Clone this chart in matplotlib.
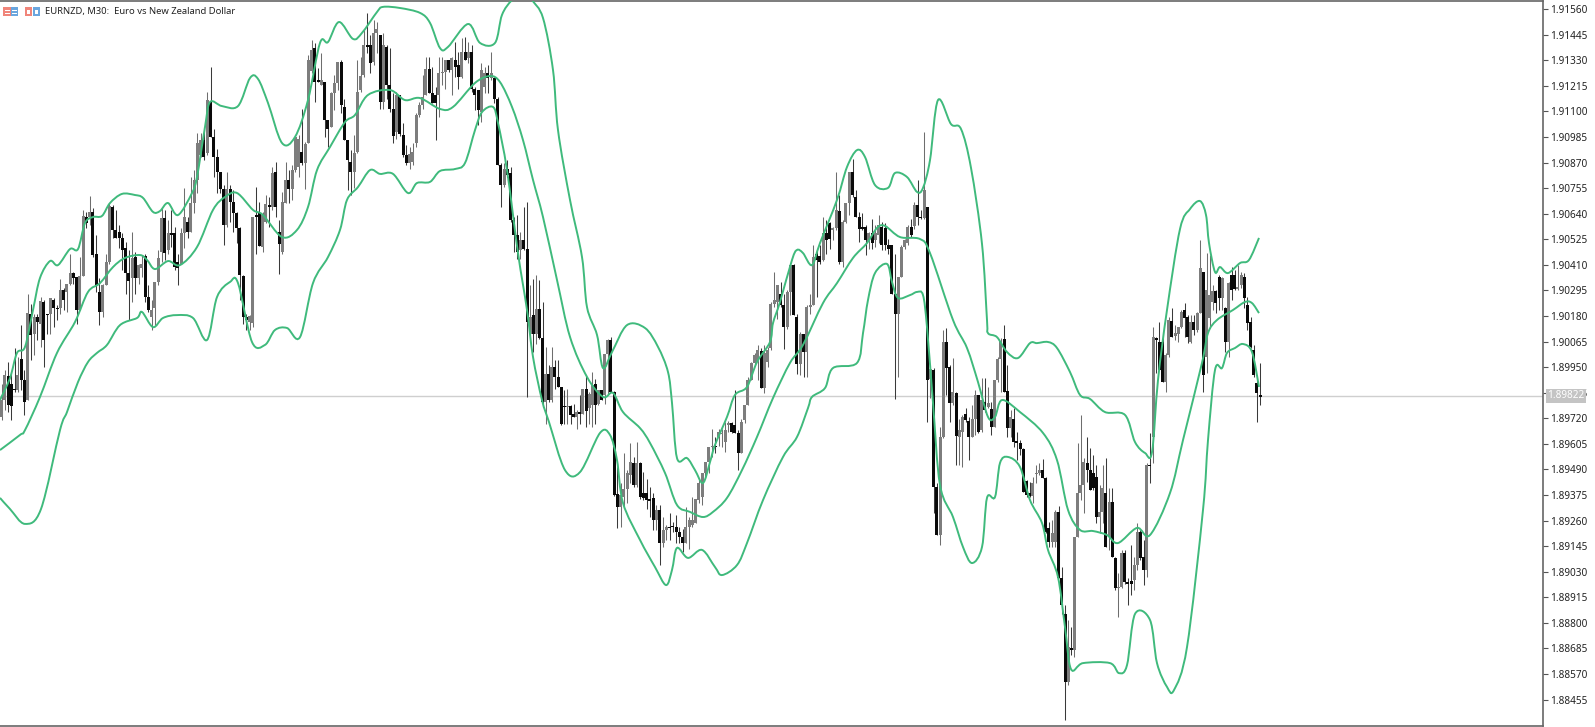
import numpy as np
import matplotlib
matplotlib.use("Agg")
import matplotlib.pyplot as plt
from matplotlib.patches import Rectangle, PathPatch
from matplotlib.path import Path

# prices are kept as points above 1.88000
BASE = 1.88

highs = [
    1876,1936,1974,1921,2034,1996,2139,1936,2281,2236,2191,2191,2266,2251,2191,2259,2259,2229,2348,2304,
    2326,2461,2378,2356,2446,2656,2648,2719,2664,2544,2349,2326,2461,2686,2679,2656,2589,2551,2514,2476,
    2558,2469,2416,2453,2461,2318,2251,2334,2476,2664,2656,2611,
    2656,2581,2461,2574,2754,2626,2806,2836,3001,3001,3031,3188,3301,3023,2933,2829,2769,2829,2769,2746,
    2649,2581,2363,2191,2183,2626,2761,2694,2649,2723,2716,2851,2873,2611,2739,2873,2836,2858,2986,2993,
    3113,2963,3353,3421,3406,3293,3361,3233,3061,3188,3263,3323,
    3331,3158,2971,2926,2993,3331,3346,3466,3541,3443,3511,3503,3443,3451,3398,3383,3181,3188,3173,3046,
    2948,2941,2956,3091,3143,3263,3346,3346,3301,3211,3346,3346,3331,3331,3346,3413,3368,3428,3436,3413,
    3398,3211,3196,3316,3301,3308,3368,3256,3166,
    2866,2866,2881,2851,2626,2633,2558,2671,2693,2319,2348,2363,2341,2243,2041,1958,2041,1981,1981,1861,
    1846,1853,1778,1786,1756,1823,1853,1913,1838,1928,1898,1838,1846,2011,2078,2086,
    1842,1502,1427,1562,1487,1607,1547,1614,1524,1479,1449,1412,1382,1329,1329,1277,1239,1292,1254,1284,
    1232,1224,1322,1277,1367,1359,1442,1472,1524,1592,1674,1637,1674,1674,1704,1709,1704,1847,1667,1719,
    1779,1907,1974,2012,2049,2034,2049,
    2041,2243,2378,2318,2333,2281,2296,2416,2416,2191,2108,2101,2228,2281,2498,2476,2498,2626,2611,2603,
    2581,2828,2723,2611,2686,2828,2888,2746,2648,2641,2588,2558,2618,2588,2633,2603,2599,2528,2498,2461,
    2356,2498,2528,2588,2618,2693,2791,2656,3007,2671,
    1960,1945,1427,1682,2117,2124,1959,1990,1839,1719,1734,1764,1727,1779,1847,1824,1899,1899,1862,1794,
    1892,1997,2080,2140,1960,1757,1764,1660,1624,1585,1442,1435,1457,1509,1517,1539,1457,1255,1262,1307,
    1325,
    1052,880,812,782,1187,1607,1734,1540,1637,1585,1555,1510,1420,1510,1540,1405,1405,1097,1022,1127,
    1127,1000,1150,1097,1247,1217,1172,1517,1652,
    2132,2087,2154,2110,2012,2177,2214,2139,2132,2207,2237,2184,2184,2184,2199,2522,2380,2462,2454,2320,
    2297,2364,2357,2222,2334,2402,2387,2409,2379,2372,2267,2177,2049,1914,1967,
]
lows = [
    1711,1756,1749,1711,1839,1839,1846,1734,1801,1981,2004,2071,2041,1951,2100,2101,2131,2161,2191,2206,
    2198,2318,2326,2146,2206,2364,2574,2589,2446,2289,2139,2176,2319,2416,2529,2529,2484,2386,2281,2161,
    2244,2281,2326,2356,2244,2198,2116,2139,2319,2424,2431,2461,
    2491,2386,2319,2416,2484,2529,2559,2641,2731,2896,2881,2904,2986,2806,2731,2731,2499,2581,2603,2559,
    2506,2251,2146,2116,2116,2131,2461,2494,2469,2596,2581,2656,2626,2371,2461,2686,2686,2701,2829,2806,
    2858,2753,2956,3271,3143,3233,3218,2986,2941,3031,3106,3196,
    3091,3008,2746,2724,2754,2911,3188,3256,3361,3271,3308,3361,3113,3113,3158,3098,2956,2978,2989,2896,
    2858,2839,2858,2941,3076,3113,3173,3181,3166,2971,3076,3218,3203,3278,3173,3256,3203,3248,3331,3316,
    3188,3106,3038,3053,3181,3181,3241,3136,2858,
    2671,2761,2806,2603,2468,2438,2438,2476,1816,2064,2019,2056,2078,1771,1696,1793,1793,1853,1861,1688,
    1696,1696,1696,1726,1673,1696,1741,1681,1696,1681,1696,1778,1801,1786,1831,1838,
    1370,1225,1232,1322,1337,1427,1412,1412,1359,1352,1314,1277,1217,1217,1059,1142,1172,1172,1209,1157,
    1157,1119,1157,1134,1232,1247,1337,1329,1457,1472,1547,1562,1597,1592,1569,1659,1655,1652,1487,1562,
    1697,1779,1892,1959,1892,1854,1832,
    1951,2026,2221,2168,2221,2033,2123,2183,2183,1921,1913,1906,1906,2191,2228,2266,2416,2426,2461,2483,
    2521,2566,2416,2401,2596,2634,2716,2626,2513,2566,2453,2483,2483,2491,2506,2476,2476,2461,2281,1808,
    1906,2356,2483,2498,2536,2573,2588,2618,2618,1703,
    1810,1292,1195,1150,1630,1824,1704,1780,1510,1510,1502,1704,1532,1637,1644,1652,1660,1750,1764,1644,
    1682,1885,1840,1840,1637,1637,1592,1532,1555,1390,1367,1367,1337,1427,1465,1450,1202,1142,1142,1142,
    1000,
    842,362,520,655,647,1187,1352,1292,1435,1397,1397,1247,1202,1247,1142,1127,1097,947,827,955,
    977,880,925,947,1037,1082,970,1007,1427,
    1517,1922,1937,1885,1839,1997,2087,2072,2064,2124,2087,2057,2057,2094,2109,2192,1839,1922,2124,2207,
    2192,2207,2207,2019,1997,2252,2297,2297,2304,2214,2117,2034,1907,1704,1780,
]
opens = [
    1726,1801,1909,1876,1851,1846,1988,1891,1801,2191,2101,2176,2146,2244,2188,2191,2254,2214,2214,2299,
    2288,2326,2374,2356,2206,2359,2626,2626,2648,2461,2289,2199,2319,2424,2671,2566,2559,2529,2484,2374,
    2353,2446,2349,2394,2449,2266,2176,2214,2334,2469,2619,2476,
    2551,2551,2423,2416,2551,2604,2559,2686,2791,2906,2971,2911,3144,2983,2893,2829,2753,2589,2753,2693,
    2641,2574,2359,2176,2154,2149,2631,2644,2491,2604,2680,2671,2829,2558,2469,2686,2791,2753,2836,2851,
    2918,2866,2956,3281,3383,3238,3218,3233,3061,3028,3181,3226,
    3323,3121,2971,2873,2828,2919,3196,3263,3398,3398,3323,3451,3443,3143,3391,3218,3113,3008,3173,2993,
    2903,2866,2873,2956,3083,3128,3173,3289,3181,3173,3173,3271,3278,3331,3286,3331,3308,3256,3368,3338,
    3368,3203,3196,3098,3211,3271,3248,3248,3158,
    2858,2768,2843,2821,2611,2543,2476,2521,2483,2101,2183,2101,2213,2083,1793,1921,1801,1951,1906,1861,
    1776,1771,1774,1741,1726,1748,1741,1853,1766,1778,1873,1786,1846,1823,2011,2071,
    1840,1380,1322,1367,1404,1465,1520,1420,1517,1384,1384,1352,1362,1262,1307,1157,1217,1232,1233,1232,
    1209,1187,1157,1232,1240,1247,1352,1367,1472,1524,1589,1597,1637,1650,1614,1689,1700,1689,1655,1562,
    1712,1779,1892,1967,1974,2024,1854,
    1973,2034,2236,2243,2281,2228,2131,2288,2408,2176,1966,2101,2018,2221,2228,2461,2451,2431,2554,2599,
    2566,2574,2653,2423,2603,2686,2828,2716,2626,2581,2581,2513,2551,2521,2543,2581,2574,2498,2498,2281,
    2191,2356,2488,2506,2581,2584,2678,2626,2620,2671,
    1895,1937,1412,1195,1637,2064,1952,1787,1835,1637,1660,1739,1709,1634,1719,1824,1667,1794,1772,1760,
    1682,1892,1985,2075,1842,1675,1719,1614,1610,1580,1437,1385,1370,1470,1475,1487,1450,1225,1165,1165,
    1300,
    1000,842,532,685,680,1187,1385,1420,1517,1487,1472,1457,1277,1300,1382,1187,1345,1092,955,962,
    1112,985,990,992,1060,1210,1097,1037,1510,
    1637,2080,2064,2064,1885,2004,2157,2092,2099,2129,2207,2177,2064,2154,2117,2195,2380,1997,2169,2244,
    2294,2354,2259,2214,2064,2364,2364,2300,2319,2354,2229,2154,2027,1877,1825,
]
closes = [
    1801,1914,1779,1774,1846,1913,1894,1794,2194,2094,2176,2154,2246,2071,2184,2259,2214,2210,2299,2251,
    2326,2374,2353,2206,2359,2629,2596,2648,2454,2319,2199,2319,2424,2676,2566,2529,2529,2476,2374,2338,
    2443,2349,2408,2416,2266,2206,2206,2334,2439,2619,2464,2551,
    2546,2401,2394,2551,2626,2559,2686,2791,2956,2971,2896,3151,2986,2893,2829,2751,2589,2753,2693,2641,
    2574,2363,2176,2164,2179,2626,2626,2494,2634,2683,2671,2824,2671,2503,2694,2791,2753,2836,2986,2978,
    2866,2953,3331,3376,3233,3233,3241,3061,3023,3181,3226,3323,
    3128,2971,2881,2828,2911,3188,3259,3398,3391,3316,3454,3469,3143,3398,3218,3113,2989,3173,2998,2903,
    2866,2908,2918,3083,3131,3166,3289,3181,3139,3136,3271,3278,3331,3286,3338,3301,3256,3368,3331,3368,
    3203,3173,3106,3286,3271,3248,3271,3158,2858,
    2768,2843,2813,2611,2543,2468,2521,2483,2153,2176,2101,2213,2083,1793,1921,1801,1951,1906,1861,1696,
    1771,1776,1733,1726,1748,1741,1853,1751,1831,1868,1778,1846,1801,2011,2074,1838,
    1375,1322,1375,1404,1472,1524,1420,1517,1367,1362,1352,1349,1262,1307,1157,1217,1232,1227,1229,1209,
    1187,1157,1232,1262,1262,1359,1427,1472,1524,1589,1597,1589,1659,1655,1667,1700,1659,1652,1562,1704,
    1779,1892,1967,2004,2027,1854,2012,
    2029,2236,2251,2318,2228,2131,2288,2408,2183,1966,2101,2018,2221,2228,2446,2431,2421,2554,2521,2524,
    2576,2656,2423,2603,2686,2828,2723,2626,2573,2573,2521,2551,2506,2551,2588,2498,2498,2483,2281,2191,
    2356,2488,2521,2581,2543,2678,2626,2620,2746,1891,
    1940,1412,1195,1637,2064,1944,1787,1840,1640,1667,1727,1712,1634,1719,1824,1659,1802,1755,1787,1682,
    1892,1985,2069,1840,1675,1727,1614,1610,1580,1390,1375,1370,1430,1475,1487,1450,1210,1165,1202,1300,
    1000,
    880,535,690,680,1187,1385,1420,1524,1487,1397,1405,1277,1300,1405,1142,1345,1097,955,962,1112,
    985,975,975,1060,1210,1090,1037,1510,1505,
    2087,2072,1937,1885,2004,2162,2087,2102,2129,2199,2169,2087,2154,2117,2192,2394,1914,2297,2274,2294,
    2240,2259,2349,2064,2327,2297,2300,2312,2364,2259,2147,2042,1914,1832,1817,
]

# time of a few known bars, the rest follow between them
anchor_bar = [0, 64, 161, 189, 275, 284, 328, 390]
anchor_t = [1.5, 210.5, 527, 614, 895, 924, 1065, 1260]

upper_t = [0,10,17,25,33,40,50,58,70,78,85,93,102,110,122,135,143,153,160,168,178,192,197,205,210,222,238,250,258,268,
           282,295,308,320,328,339,353,362,377,383,400,420,430,440,448,468,480,495,502,512,525,532,543,553,558,570,582,587,597,603,
           612,627,645,658,668,672,677,687,695,703,710,715,727,735,747,757,770,773,780,792,797,803,812,820,837,847,857,865,875,888,
           895,907,917,923,930,938,951,961,971,982,987,988,997,1007,1018,1030,1037,1048,1057,1070,1080,1090,1105,1125,1135,1145,1152,1158,1167,1180,
           1190,1200,1206,1209,1215,1220,1228,1240,1249,1259]
upper = [1802,1901,2014,2041,2207,2351,2427,2409,2481,2481,2598,2625,2630,2688,2729,2724,2711,2648,2652,2688,2634,2733,2805,3030,3142,3124,3124,3250,3246,3138,
         2958,2985,3151,3408,3412,3502,3426,3453,3547,3570,3565,3543,3498,3385,3390,3493,3408,3408,3534,3601,3646,3601,3520,3286,3016,2702,2445,2220,2095,1946,
         2018,2139,2126,2041,1928,1789,1541,1541,1487,1429,1523,1600,1726,1825,1861,1973,2063,2148,2243,2432,2477,2463,2409,2508,2702,2850,2926,2895,2769,2756,
         2823,2805,2738,2756,2881,3151,3043,3021,2846,2504,2162,2103,2085,2018,1991,2058,2058,2063,2036,1928,1825,1807,1748,1735,1613,1564,1568,1892,2207,2571,
         2661,2697,2634,2508,2378,2400,2373,2418,2432,2531]

middle_t = [0,20,25,40,57,75,88,100,113,125,140,147,155,168,180,197,213,225,237,253,263,282,297,308,317,330,345,355,368,390,
            405,420,440,453,475,490,500,512,523,533,543,557,570,587,603,613,623,640,650,665,677,690,703,713,727,742,757,773,790,803,
            823,837,853,867,877,885,900,920,930,953,967,978,988,995,1002,1020,1043,1057,1068,1080,1093,1107,1118,1137,1150,1170,1183,1202,1208,1217,
            1233,1245,1252,1259]
middle = [1577,1645,1667,1816,2014,2153,2288,2328,2400,2441,2454,2432,2391,2427,2409,2490,2657,2715,2733,2657,2634,2535,2567,2670,2836,2940,3052,3084,3174,3196,
          3151,3160,3111,3120,3228,3259,3232,3120,2971,2792,2625,2342,2086,1906,1816,1834,1748,1676,1609,1474,1330,1299,1276,1299,1362,1487,1636,1811,1969,2050,
          2238,2328,2441,2508,2576,2585,2535,2526,2463,2162,2036,1883,1726,1726,1802,1748,1654,1532,1308,1218,1213,1195,1159,1227,1195,1384,1622,1969,2103,2162,
          2207,2243,2238,2193]

lower_t = [0,10,25,41,60,67,78,88,97,107,120,137,142,153,163,177,193,207,217,230,238,252,265,275,287,300,313,328,340,347,
           358,370,380,393,408,417,430,440,455,465,475,482,493,498,507,518,527,533,542,549,565,580,600,610,617,623,640,655,666,672,
           677,688,702,715,722,737,747,763,783,797,808,812,825,833,857,863,868,875,887,892,898,910,917,923,927,933,940,953,963,972,
           982,987,995,1000,1008,1020,1030,1042,1048,1058,1065,1071,1083,1110,1119,1127,1135,1150,1157,1167,1174,1187,1203,1208,1215,1222,1227,1235,1243,1252,
           1259]
lower = [1362,1312,1245,1312,1667,1748,1883,1973,2014,2050,2139,2171,2198,2130,2171,2184,2171,2072,2265,2333,2328,2063,2050,2117,2126,2085,2328,2445,2567,2702,
         2760,2836,2819,2819,2733,2778,2783,2832,2841,2868,3016,3097,3120,3048,2836,2463,2207,1996,1802,1703,1487,1478,1654,1645,1532,1339,1173,1051,970,1038,
         1137,1092,1128,1051,1015,1060,1159,1352,1546,1636,1766,1816,1856,1946,1969,2103,2252,2373,2414,2333,2261,2274,2288,2274,2130,1789,1420,1276,1141,1069,
         1141,1362,1366,1519,1546,1501,1352,1249,1128,1006,781,592,619,619,574,610,840,813,619,512,498,691,1308,1622,1937,1946,2014,2036,2054,2018,
         1861]

tick_start = 1.88455
tick_step = 0.00115
last_price = 1.89822
title = "EURNZD, M30:  Euro vs New Zealand Dollar"

def price(pts):
    return BASE + np.array(pts) / 1e5

# bands run through the read points with rounded corners
def band_path(t, vals):
    p = np.column_stack([t, price(vals)])
    p = np.vstack([p[0], p, p[-1]])
    verts = [p[1]]
    codes = [Path.MOVETO]
    for i in range(1, len(p) - 2):
        verts += [p[i] + (p[i + 1] - p[i - 1]) / 6, p[i + 1] - (p[i + 2] - p[i]) / 6, p[i + 1]]
        codes += [Path.CURVE4] * 3
    return Path(verts, codes)

W, H = 1595, 727
plt.rcParams['font.family'] = ['Noto Sans', 'DejaVu Sans']
fig = plt.figure(figsize=(W / 100, H / 100), dpi=100)
ax = fig.add_axes([0, (H - 725.5) / H, 1543 / W, 724.5 / H])

o, h, l, c = map(price, (opens, highs, lows, closes))
h = np.maximum(h, np.maximum(o, c))
l = np.minimum(l, np.minimum(o, c))
x = np.interp(np.arange(len(o)), anchor_bar, anchor_t)
up = c >= o

# wicks, then bodies
ax.vlines(x[up], l[up], h[up], color='#6e6e6e', lw=0.75, zorder=2)
ax.vlines(x[~up], l[~up], h[~up], color='#3a3a3a', lw=0.75, zorder=2)
body = np.maximum(np.abs(c - o), 0.00006)
bottom = np.minimum(o, c)
ax.bar(x[up], body[up], bottom=bottom[up], width=3.0, color='#7d7d7d', linewidth=0, zorder=3)
ax.bar(x[~up], body[~up], bottom=bottom[~up], width=3.0, color='#0a0a0a', linewidth=0, zorder=3)

green = '#3fba7c'
for t, vals in ((upper_t, upper), (middle_t, middle), (lower_t, lower)):
    ax.add_patch(PathPatch(band_path(t, vals), fill=False, edgecolor=green, lw=1.4, zorder=4))

ax.axhline(last_price, color='#cfcfcf', lw=1, zorder=1)

ax.set_xlim(0, 1543)
ax.set_ylim(BASE + (3601 - 4.497 * 725.5) / 1e5, BASE + (3601 - 4.497 * 1) / 1e5)
ticks = [tick_start + tick_step * k for k in range(28)]
ax.set_xticks([])
ax.yaxis.tick_right()
ax.set_yticks(ticks)
ax.set_yticklabels([f"{v:.5f}" for v in ticks], fontsize=7.2, color='#222222')
ax.tick_params(axis='y', length=3.5, width=0.8, color='#555555', pad=1.5)
ax.spines['left'].set_visible(False)
for side in ('top', 'right', 'bottom'):
    ax.spines[side].set_color('#666666')
    ax.spines[side].set_linewidth(1.2)

# current price tag on the scale
ax.annotate(f"{last_price:.5f}", xy=(1, last_price), xycoords=('axes fraction', 'data'),
            xytext=(4.5, 0), textcoords='offset pixels', va='center', ha='left', fontsize=7.2, color='white',
            bbox=dict(boxstyle='square,pad=0.15', fc='#c4c4c4', ec='none'), annotation_clip=False, zorder=6)

# header icons and title
def icon(px, py, w, ht, color):
    fig.add_artist(Rectangle((px / W, 1 - (py + ht) / H), w / W, ht / H, transform=fig.transFigure,
                             facecolor=color, edgecolor='none'))

icon(3, 7, 8, 9, '#f0857a')
icon(11, 7, 7, 9, '#6aa6de')
for yy in (9.5, 12.5):
    icon(5, yy, 5, 1, 'white')
    icon(12, yy, 5, 1, 'white')
icon(25, 7, 7, 9, '#f0857a')
icon(27, 10, 3, 4, 'white')
icon(33, 7, 7, 9, '#6aa6de')
icon(35, 10, 3, 4, 'white')
fig.text(45 / W, 1 - 11.5 / H, title, fontsize=6.8, color='#222222', va='center', ha='left')

fig.savefig("out.png", dpi=100)
